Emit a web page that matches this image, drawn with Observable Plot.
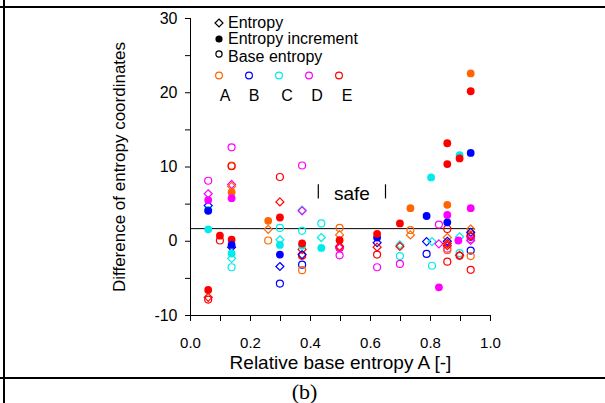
<!DOCTYPE html>
<html><head><meta charset="utf-8">
<script src="https://cdn.jsdelivr.net/npm/d3@7"></script>
<script src="https://cdn.jsdelivr.net/npm/@observablehq/plot@0.6"></script>
<style>
body{margin:0;background:#fff;}
#wrap{position:relative;width:605px;height:403px;overflow:hidden;font-family:Arial,"Liberation Sans",sans-serif;}
.bl{position:absolute;background:#000;}
#legend{position:absolute;left:0;top:0;width:605px;height:120px;pointer-events:none;}
#caption{position:absolute;left:0;width:605px;text-align:center;top:380px;font-family:"Liberation Serif","Times New Roman",serif;font-size:22px;line-height:24px;padding-left:2px;}
</style></head><body>
<div id="wrap">
  <div class="bl" style="left:0;top:6px;width:605px;height:2px"></div>
  <div class="bl" style="left:3px;top:0;width:2px;height:403px"></div>
  <div class="bl" style="left:0;top:377px;width:605px;height:2px"></div>
  <div id="caption">(b)</div>
</div>
<script>
// ---------- data ----------
const groups = ["A", "B", "C", "D", "E"];
const groupColors = ["#ff6600", "#0000ff", "#00ecec", "#ff00ff", "#ff0000"];

// Entropy (open diamonds): [relative base entropy, difference, group]
const entropyPoints = [
  [0.059, 6.4, "D"], [0.059, 4.8, "B"], [0.059, -7.55, "E"],
  [0.137, 7.65, "D"], [0.137, 7.4, "A"], [0.137, -0.8, "B"], [0.137, -2.3, "C"],
  [0.259, 1.6, "A"],
  [0.298, 5.3, "E"], [0.298, 0.2, "C"], [0.298, -3.4, "B"],
  [0.372, 4.2, "C"], [0.372, 4.1, "D"], [0.372, -1.1, "E"], [0.372, -1.8, "B"],
  [0.436, 0.5, "C"],
  [0.497, 0.85, "A"], [0.497, -0.9, "D"], [0.497, -0.7, "E"],
  [0.622, -0.2, "B"], [0.622, -0.8, "E"],
  [0.698, -0.5, "C"], [0.698, -0.7, "E"],
  [0.733, 0.85, "A"],
  [0.787, -0.05, "B"], [0.805, -0.05, "C"],
  [0.828, -0.35, "D"],
  [0.856, 0.5, "A"], [0.856, 0.0, "B"], [0.856, -0.3, "E"], [0.856, -0.6, "E"],
  [0.897, 0.6, "C"], [0.897, -1.9, "E"],
  [0.934, 1.65, "A"], [0.934, 1.2, "B"], [0.934, 0.1, "D"], [0.934, 0.7, "E"]
];

// Entropy increment (filled circles)
const incrementPoints = [
  [0.059, 5.55, "D"], [0.059, 4.1, "B"], [0.059, 1.6, "C"], [0.059, -6.55, "E"],
  [0.098, 0.75, "E"],
  [0.137, 6.6, "A"], [0.137, 5.8, "D"], [0.137, 0.2, "E"], [0.137, -0.5, "B"], [0.137, -1.65, "C"],
  [0.259, 2.75, "A"],
  [0.298, 3.2, "E"], [0.298, -0.5, "C"], [0.298, -1.8, "B"],
  [0.372, -0.6, "C"], [0.372, -0.3, "E"],
  [0.436, -0.9, "C"],
  [0.497, 0.15, "E"],
  [0.622, 0.5, "B"], [0.622, 1.0, "E"],
  [0.698, 2.4, "E"],
  [0.733, 4.45, "A"],
  [0.787, 3.4, "B"], [0.802, 8.6, "C"],
  [0.828, -6.2, "D"],
  [0.856, 13.2, "E"], [0.856, 10.4, "E"], [0.856, 4.9, "A"], [0.856, 3.55, "D"], [0.856, 2.55, "B"],
  [0.897, 11.6, "C"], [0.897, 11.15, "E"], [0.893, 0.1, "D"],
  [0.934, 22.6, "A"], [0.934, 20.2, "E"], [0.934, 11.9, "B"], [0.934, 4.45, "D"]
];

// Base entropy (open circles)
const basePoints = [
  [0.059, 8.15, "D"], [0.059, 4.2, "C"], [0.059, -7.85, "E"],
  [0.098, 0.1, "E"],
  [0.137, 12.65, "D"], [0.137, 10.2, "A"], [0.137, 10.1, "E"], [0.137, -3.5, "C"],
  [0.259, 0.1, "A"],
  [0.298, 8.65, "E"], [0.298, 1.8, "C"], [0.298, -5.7, "B"],
  [0.372, 10.2, "D"], [0.372, 1.4, "C"], [0.372, -2.0, "A"], [0.372, -1.9, "E"], [0.372, -3.15, "B"], [0.372, -3.9, "A"],
  [0.436, 2.4, "C"],
  [0.497, 1.8, "A"], [0.497, -0.9, "E"], [0.497, -1.9, "D"],
  [0.622, -1.8, "E"], [0.622, -3.5, "D"],
  [0.698, -2.0, "C"], [0.698, -3.05, "D"],
  [0.733, 1.5, "A"],
  [0.787, -1.7, "B"], [0.805, -3.3, "C"],
  [0.828, 2.25, "D"],
  [0.856, 1.65, "E"], [0.856, -1.0, "D"], [0.856, -1.2, "A"], [0.856, -2.75, "E"],
  [0.897, -1.6, "C"], [0.897, -1.95, "E"],
  [0.934, 0.9, "E"], [0.934, 0.6, "B"], [0.934, 0.3, "D"], [0.934, -1.25, "B"], [0.934, -2.0, "A"], [0.934, -3.85, "E"]
];

const xDomain = [0, 1];
const yDomain = [-10, 30];
const xLabelTicks = [0, 0.2, 0.4, 0.6, 0.8, 1.0];
const xMinorTicks = [0, 0.1, 0.2, 0.3, 0.4, 0.5, 0.6, 0.7, 0.8, 0.9, 1.0];
const yLabelTicks = [-10, 0, 10, 20, 30];
const yMinorTicks = [-10, -5, 0, 5, 10, 15, 20, 25, 30];
const limitValue = [1.7];
const limitExtent = [0, 0.95];
const safeBounds = [0.426, 0.65];
const safeSpan = [5.7, 7.6];
const safeText = ["safe"];
const safeTextY = 6.4;
const xTitle = "Relative base entropy A [-]";
const yTitle = "Difference of entropy coordinates";

// ---------- chart ----------
const rows = arr => arr.map(([x, y, g]) => ({x, y, g}));

const chart = Plot.plot({
  width: 605, height: 403,
  marginLeft: 190, marginRight: 115, marginTop: 18, marginBottom: 88,
  style: {fontFamily: "Arial, 'Liberation Sans', sans-serif", background: "transparent", color: "#000", overflow: "visible"},
  x: {domain: xDomain},
  y: {domain: yDomain},
  color: {domain: groups, range: groupColors},
  marks: [
    Plot.ruleX([xDomain[0]], {y1: yDomain[0], y2: yDomain[1], stroke: "#000", strokeWidth: 1}),
    Plot.ruleY([yDomain[0]], {x1: xDomain[0], x2: xDomain[1], stroke: "#000", strokeWidth: 1}),
    Plot.axisY(yMinorTicks, {tickSize: 5, tickFormat: () => "", label: null, strokeWidth: 1}),
    Plot.axisY(yLabelTicks, {tickSize: 0, tickPadding: 13, fontSize: 16, label: null, tickFormat: d => String(d)}),
    Plot.axisX(xMinorTicks, {tickSize: 6, tickFormat: () => "", label: null, strokeWidth: 1}),
    Plot.axisX(xLabelTicks, {tickSize: 0, tickPadding: 22, fontSize: 15, label: null, tickFormat: d3.format(".1f")}),
    Plot.text([yTitle], {frameAnchor: "left", textAnchor: "middle", rotate: -90, dx: -71, fontSize: 17, text: d => d}),
    Plot.text([xTitle], {frameAnchor: "bottom", dy: 53, fontSize: 19, text: d => d}),
    Plot.ruleY(limitValue, {x1: limitExtent[0], x2: limitExtent[1], stroke: "#000", strokeWidth: 1}),
    Plot.ruleX(safeBounds, {y1: safeSpan[0], y2: safeSpan[1], stroke: "#000", strokeWidth: 1.2}),
    Plot.text(safeText, {x: (safeBounds[0] + safeBounds[1]) / 2, y: safeTextY, fontSize: 19, text: d => d}),
    Plot.dot(rows(basePoints), {x: "x", y: "y", stroke: "g", r: 3.5, strokeWidth: 1.2, fill: "none"}),
    Plot.dot(rows(entropyPoints), {x: "x", y: "y", stroke: "g", symbol: "diamond2", r: 3.6, strokeWidth: 1.2, fill: "none"}),
    Plot.dot(rows(incrementPoints), {x: "x", y: "y", fill: "g", r: 3.9, stroke: "none"})
  ]
});
chart.style.position = "absolute";
chart.style.left = "0px";
chart.style.top = "0px";
document.getElementById("wrap").appendChild(chart);

// ---------- legend (overlay) ----------
const ns = "http://www.w3.org/2000/svg";
const lg = document.createElementNS(ns, "svg");
lg.setAttribute("id", "legend");
lg.setAttribute("width", 605); lg.setAttribute("height", 120);
lg.setAttribute("font-family", "Arial, 'Liberation Sans', sans-serif");
document.getElementById("wrap").appendChild(lg);
function el(tag, attrs, txt) {
  const e = document.createElementNS(ns, tag);
  for (const k in attrs) e.setAttribute(k, attrs[k]);
  if (txt) e.textContent = txt;
  lg.appendChild(e);
  return e;
}
const kinds = [
  {label: "Entropy", sym: "diamond"},
  {label: "Entropy increment", sym: "filled"},
  {label: "Base entropy", sym: "open"}
];
const kindRowY = [23, 39, 55];
kinds.forEach((k, i) => {
  const cy = kindRowY[i];
  if (k.sym === "diamond") el("path", {d: `M219,${cy-4}L223,${cy}L219,${cy+4}L215,${cy}Z`, fill: "none", stroke: "#000", "stroke-width": 1.2});
  else if (k.sym === "filled") el("circle", {cx: 219, cy, r: 3.6, fill: "#000"});
  else el("circle", {cx: 219, cy: cy - 1, r: 3.1, fill: "none", stroke: "#000", "stroke-width": 1.2});
  el("text", {x: 228, y: cy + 4 + (i === 2 ? 3 : 1), "font-size": 16}, k.label);
});
const swatchX = [219, 249, 279, 309, 339];
const letterX = [225, 254, 287, 317, 347];
groups.forEach((g, i) => {
  el("circle", {cx: swatchX[i], cy: 75.5, r: 3.4, fill: "none", stroke: groupColors[i], "stroke-width": 1.2});
  el("text", {x: letterX[i], y: 101, "font-size": 16, "text-anchor": "middle"}, g);
});
</script>
</body></html>
